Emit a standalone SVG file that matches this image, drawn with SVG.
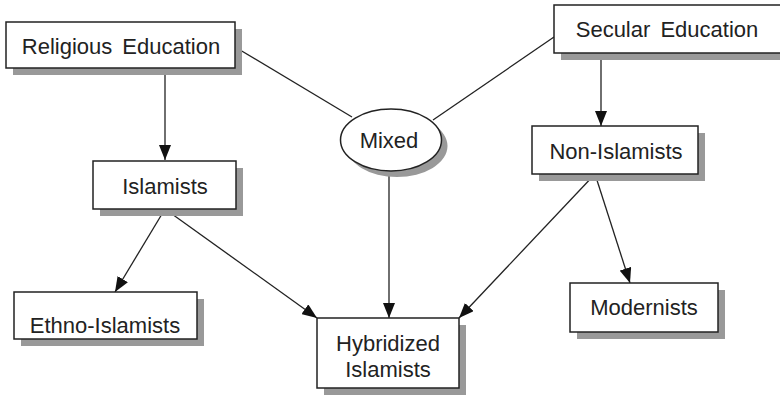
<svg xmlns="http://www.w3.org/2000/svg" width="780" height="400" viewBox="0 0 780 400">
<style>
.box{fill:#fff;stroke:#222;stroke-width:1.5}
.sh{fill:#999;stroke:none}
.t{font-family:"Liberation Sans",Arial,sans-serif;font-size:22px;fill:#222;text-anchor:middle}
.ws{word-spacing:4px}
.c{stroke:#222;stroke-width:1.3;fill:none}
</style>
<defs>
<marker id="ah" markerUnits="userSpaceOnUse" markerWidth="16" markerHeight="12" refX="15" refY="6" orient="auto">
<path d="M0,0 L15,6 L0,12 Z" fill="#111"/>
</marker>
</defs>
<g id="connectors">
<line class="c" x1="235" y1="47" x2="352" y2="117"/>
<line class="c" x1="554" y1="37" x2="433" y2="120"/>
<line class="c" x1="165" y1="68" x2="165" y2="160" marker-end="url(#ah)"/>
<line class="c" x1="601" y1="53" x2="601" y2="126" marker-end="url(#ah)"/>
<line class="c" x1="389" y1="171" x2="389" y2="318" marker-end="url(#ah)"/>
<line class="c" x1="165" y1="209" x2="115" y2="292" marker-end="url(#ah)"/>
<line class="c" x1="165" y1="209" x2="317" y2="318" marker-end="url(#ah)"/>
<line class="c" x1="595" y1="174" x2="459" y2="318" marker-end="url(#ah)"/>
<line class="c" x1="595" y1="174" x2="630" y2="283" marker-end="url(#ah)"/>
</g>
<g id="religious">
<rect class="sh" x="13" y="29" width="229" height="46"/>
<rect class="box" x="6" y="22" width="229" height="46"/>
<text class="t ws" x="121" y="54">Religious Education</text>
</g>
<g id="secular">
<rect class="sh" x="561" y="12" width="228" height="48"/>
<rect class="box" x="554" y="5" width="228" height="48"/>
<text class="t ws" x="667" y="37">Secular Education</text>
</g>
<g id="mixed">
<ellipse class="sh" cx="397" cy="146" rx="50.5" ry="31"/>
<ellipse class="box" cx="391" cy="140" rx="50.5" ry="31"/>
<text class="t" x="389" y="148">Mixed</text>
</g>
<g id="islamists">
<rect class="sh" x="100" y="168" width="143" height="48"/>
<rect class="box" x="93" y="161" width="143" height="48"/>
<text class="t" x="165" y="194">Islamists</text>
</g>
<g id="nonislamists">
<rect class="sh" x="539" y="133" width="166" height="48"/>
<rect class="box" x="532" y="126" width="166" height="48"/>
<text class="t" x="616" y="159">Non-Islamists</text>
</g>
<g id="ethno">
<rect class="sh" x="21" y="299" width="183" height="47"/>
<rect class="box" x="14" y="292" width="183" height="47"/>
<text class="t" x="105" y="333">Ethno-Islamists</text>
</g>
<g id="modernists">
<rect class="sh" x="577" y="290" width="148" height="49"/>
<rect class="box" x="570" y="283" width="148" height="49"/>
<text class="t" x="644" y="315">Modernists</text>
</g>
<g id="hybridized">
<rect class="sh" x="324" y="325" width="142" height="70"/>
<rect class="box" x="317" y="318" width="142" height="70"/>
<text class="t" x="388" y="351">Hybridized</text>
<text class="t" x="388" y="377">Islamists</text>
</g>
</svg>
